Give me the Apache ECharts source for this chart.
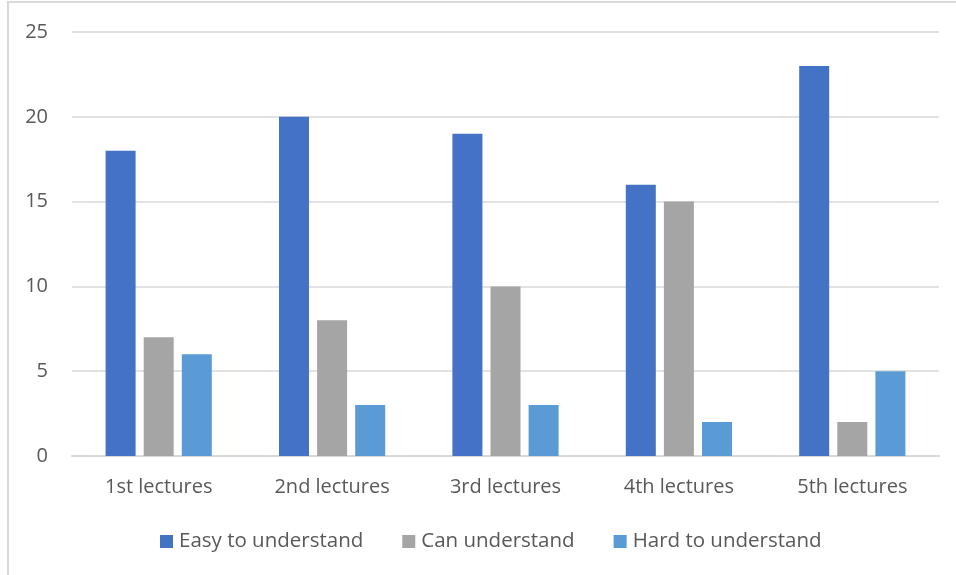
<!DOCTYPE html>
<html>
<head>
<meta charset="utf-8">
<script src="https://cdn.jsdelivr.net/npm/echarts@6/dist/echarts.min.js"></script>
<style>
  html, body { margin: 0; padding: 0; background: #fff; }
  #chart { width: 956px; height: 575px; }
</style>
</head>
<body>
<div id="chart"></div>
<script>
let categories = ['1st lectures', '2nd lectures', '3rd lectures', '4th lectures', '5th lectures']
let easyData = [18, 20, 19, 16, 23]
let canData = [7, 8, 10, 15, 2]
let hardData = [6, 3, 3, 2, 5]
let seriesNames = ['Easy to understand', 'Can understand', 'Hard to understand']
let colors = ['#4472C4', '#A5A5A5', '#5B9BD5']

let font = '"Open Sans", "Noto Sans", sans-serif'
let textColor = '#595959'

var chart = echarts.init(document.getElementById('chart'))

let seriesData = [easyData, canData, hardData].map(function (d, i) {
    return {
        name: seriesNames[i],
        type: 'bar',
        data: d,
        barWidth: 30,
        barGap: '27%',
        itemStyle: { color: colors[i] }
    }
})

chart.setOption({
    animation: false,
    color: colors,
    // frame lines on left and top like the original picture
    graphic: [
        { type: 'rect', shape: { x: 8, y: 2, width: 960, height: 580 }, style: { fill: 'none', stroke: '#D9D9D9', lineWidth: 2 } }
    ],
    grid: {
        left: 72,
        right: 17,
        top: 32,
        bottom: 119
    },
    legend: {
        left: 155,
        top: 526,
        itemWidth: 13,
        itemHeight: 13,
        itemGap: 39,
        icon: 'rect',
        textStyle: { fontFamily: font, fontSize: 20.5, color: textColor, padding: [0, 0, 0, 1] },
        data: seriesNames
    },
    xAxis: {
        type: 'category',
        data: categories,
        axisLine: { lineStyle: { color: '#D9D9D9', width: 2 } },
        axisTick: { show: false },
        axisLabel: { fontFamily: font, fontSize: 20, color: textColor, margin: 21 }
    },
    yAxis: {
        type: 'value',
        min: 0,
        max: 25,
        interval: 5,
        axisLine: { show: false },
        axisTick: { show: false },
        splitLine: { lineStyle: { color: '#D9D9D9', width: 1.5 } },
        axisLabel: { fontFamily: font, fontSize: 20, color: textColor, margin: 24 }
    },
    series: seriesData
})
</script>
</body>
</html>
